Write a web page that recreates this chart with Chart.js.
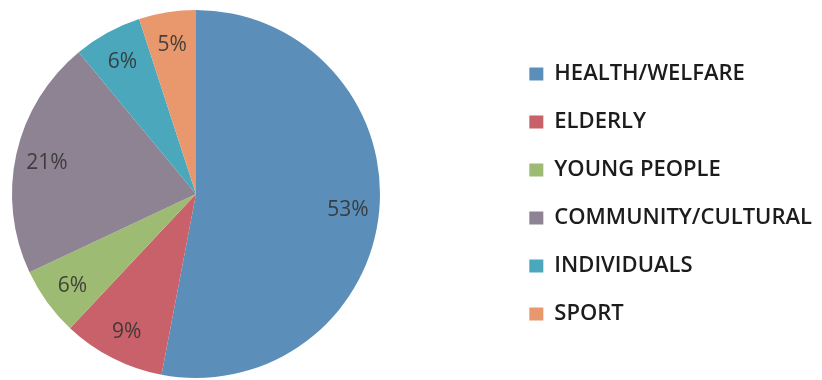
<!DOCTYPE html>
<html>
<head>
<meta charset="utf-8">
<script src="https://cdn.jsdelivr.net/npm/chart.js@4"></script>
<style>
  html, body { margin: 0; padding: 0; background: #ffffff; }
  #wrap { width: 822px; height: 380px; }
</style>
</head>
<body>
<div id="wrap"><canvas id="c" width="822" height="380"></canvas></div>
<script>
const categories = ['HEALTH/WELFARE', 'ELDERLY', 'YOUNG PEOPLE', 'COMMUNITY/CULTURAL', 'INDIVIDUALS', 'SPORT'];
const shares = [53, 9, 6, 21, 6, 5];
const sliceColors = ['#5B8FB9', '#C8616A', '#9DBB72', '#8E8393', '#4AA7BC', '#E9976C'];

// Keep the pie square and at the left of the area left free by the legend.
const pieLeft = {
  id: 'pieLeft',
  afterLayout(chart) {
    const a = chart.chartArea;
    a.right = a.left + (a.bottom - a.top);
    a.width = a.right - a.left;
  }
};

// Percentage labels inside the slices.
const sliceLabels = {
  id: 'sliceLabels',
  afterDatasetsDraw(chart) {
    const ctx = chart.ctx;
    const meta = chart.getDatasetMeta(0);
    const data = chart.data.datasets[0].data;
    ctx.save();
    ctx.font = '21px "Open Sans"';
    ctx.fillStyle = 'rgba(50,50,50,0.88)';
    ctx.textAlign = 'center';
    ctx.textBaseline = 'middle';
    meta.data.forEach((arc, i) => {
      const p = arc.getProps(['x', 'y', 'startAngle', 'endAngle', 'outerRadius'], true);
      const mid = (p.startAngle + p.endAngle) / 2;
      const r = p.outerRadius * 0.83;
      ctx.fillText(data[i] + '%', p.x + Math.cos(mid) * r, p.y + Math.sin(mid) * r + 2);
    });
    ctx.restore();
  }
};

new Chart(document.getElementById('c'), {
  type: 'pie',
  data: {
    labels: categories,
    datasets: [{
      data: shares,
      backgroundColor: sliceColors,
      borderWidth: 0,
      hoverOffset: 0
    }]
  },
  options: {
    responsive: false,
    animation: false,
    events: [],
    layout: { padding: { left: 12, top: 10, bottom: 2, right: 0 } },
    plugins: {
      tooltip: { enabled: false },
      legend: {
        position: 'right',
        align: 'center',
        labels: {
          boxWidth: 14,
          boxHeight: 13,
          padding: 26,
          color: '#1c1c1c',
          font: { family: 'Open Sans', size: 22, weight: '600' }
        }
      }
    }
  },
  plugins: [pieLeft, sliceLabels]
});
</script>
</body>
</html>
